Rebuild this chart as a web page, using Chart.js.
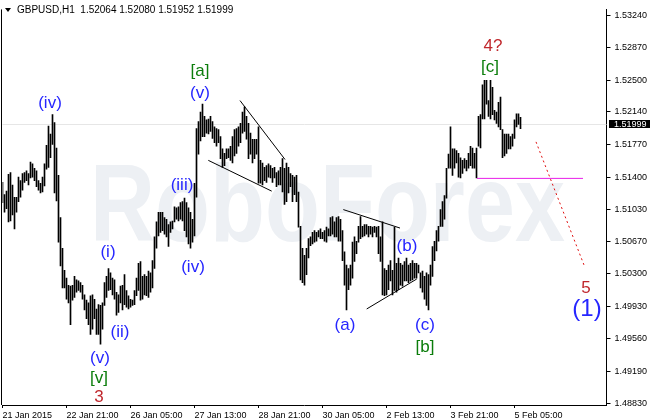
<!DOCTYPE html>
<html>
<head>
<meta charset="utf-8">
<title>GBPUSD H1</title>
<script src="https://cdn.jsdelivr.net/npm/chart.js@4.4.1/dist/chart.umd.min.js"></script>
<style>
  html, body { margin: 0; padding: 0; background: #fff; }
  #wrap { width: 650px; height: 420px; }
</style>
</head>
<body>
<div id="wrap"><canvas id="grafico" width="650" height="420"></canvas></div>
<script>
// GBPUSD H1 - maximos y minimos de cada vela, de izquierda a derecha
const highs = [
  1.5134, 1.5120, 1.5124, 1.5143, 1.5145, 1.5131, 1.5117, 1.5117, 1.5140, 1.5136,
  1.5144, 1.5145, 1.5147, 1.5144, 1.5157, 1.5155, 1.5150, 1.5147, 1.5136, 1.5133,
  1.5140, 1.5155, 1.5176, 1.5198, 1.5189, 1.5211, 1.5202, 1.5173, 1.5142, 1.5094,
  1.5059, 1.5034, 1.5025, 1.5017, 1.5016, 1.5017, 1.5027, 1.5023, 1.5022, 1.5020,
  1.5017, 1.5006, 1.5000, 1.4997, 1.5005, 1.5006, 1.5001, 1.4990, 1.4995, 1.4994,
  1.4997, 1.5020, 1.5027, 1.5036, 1.5031, 1.5025, 1.5023, 1.5009, 1.5006, 1.5016,
  1.5017, 1.5029, 1.5011, 1.5005, 1.5001, 1.5000, 1.5011, 1.5025, 1.5042, 1.5044,
  1.5027, 1.5029, 1.5027, 1.5033, 1.5031, 1.5045, 1.5072, 1.5089, 1.5100, 1.5100,
  1.5100, 1.5094, 1.5092, 1.5086, 1.5089, 1.5090, 1.5106, 1.5105, 1.5106, 1.5111,
  1.5112, 1.5116, 1.5111, 1.5105, 1.5100, 1.5092, 1.5133, 1.5195, 1.5203, 1.5214,
  1.5223, 1.5209, 1.5205, 1.5206, 1.5209, 1.5203, 1.5197, 1.5195, 1.5194, 1.5186,
  1.5172, 1.5167, 1.5172, 1.5172, 1.5175, 1.5186, 1.5194, 1.5195, 1.5197, 1.5201,
  1.5214, 1.5220, 1.5209, 1.5201, 1.5190, 1.5183, 1.5183, 1.5183, 1.5197, 1.5159,
  1.5156, 1.5151, 1.5153, 1.5155, 1.5153, 1.5150, 1.5151, 1.5145, 1.5147, 1.5151,
  1.5161, 1.5150, 1.5156, 1.5151, 1.5144, 1.5142, 1.5140, 1.5142, 1.5123, 1.5084,
  1.5059, 1.5051, 1.5059, 1.5070, 1.5072, 1.5077, 1.5079, 1.5077, 1.5079, 1.5081,
  1.5077, 1.5079, 1.5083, 1.5081, 1.5094, 1.5095, 1.5089, 1.5094, 1.5095, 1.5092,
  1.5079, 1.5055, 1.5040, 1.5036, 1.5040, 1.5066, 1.5072, 1.5067, 1.5084, 1.5095,
  1.5084, 1.5086, 1.5086, 1.5084, 1.5084, 1.5083, 1.5084, 1.5083, 1.5084, 1.5072,
  1.5089, 1.5036, 1.5034, 1.5040, 1.5045, 1.5034, 1.5083, 1.5042, 1.5048, 1.5042,
  1.5040, 1.5044, 1.5048, 1.5040, 1.5042, 1.5045, 1.5042, 1.5042, 1.5040, 1.5031,
  1.5033, 1.5027, 1.5031, 1.5029, 1.5040, 1.5061, 1.5067, 1.5079, 1.5084, 1.5103,
  1.5112, 1.5119, 1.5150, 1.5166, 1.5197, 1.5172, 1.5172, 1.5170, 1.5167, 1.5162,
  1.5159, 1.5161, 1.5159, 1.5167, 1.5175, 1.5173, 1.5167, 1.5173, 1.5209, 1.5211,
  1.5245, 1.5250, 1.5250, 1.5227, 1.5250, 1.5242, 1.5216, 1.5214, 1.5225, 1.5231,
  1.5194, 1.5189, 1.5189, 1.5189, 1.5186, 1.5189, 1.5205, 1.5212, 1.5212, 1.5208
];
const lows = [
  1.5111, 1.5100, 1.5104, 1.5089, 1.5090, 1.5097, 1.5081, 1.5100, 1.5112, 1.5117,
  1.5125, 1.5134, 1.5136, 1.5131, 1.5139, 1.5140, 1.5136, 1.5129, 1.5125, 1.5122,
  1.5123, 1.5130, 1.5149, 1.5151, 1.5162, 1.5177, 1.5122, 1.5113, 1.5066, 1.5039,
  1.5014, 1.5014, 1.5001, 1.4997, 1.4972, 1.5000, 1.5003, 1.5009, 1.5011, 1.5009,
  1.5001, 1.4989, 1.4979, 1.4972, 1.4961, 1.4967, 1.4979, 1.4961, 1.4961, 1.4950,
  1.4967, 1.4994, 1.5003, 1.5011, 1.5012, 1.5006, 1.5001, 1.4983, 1.4986, 1.4997,
  1.4989, 1.4995, 1.4992, 1.4990, 1.4992, 1.4994, 1.4995, 1.5005, 1.5011, 1.5000,
  1.5001, 1.5006, 1.5005, 1.5003, 1.5009, 1.5014, 1.5036, 1.5059, 1.5073, 1.5077,
  1.5079, 1.5075, 1.5072, 1.5061, 1.5077, 1.5081, 1.5089, 1.5092, 1.5090, 1.5092,
  1.5090, 1.5079, 1.5072, 1.5064, 1.5059, 1.5066, 1.5073, 1.5117, 1.5166, 1.5181,
  1.5186, 1.5186, 1.5190, 1.5189, 1.5192, 1.5184, 1.5179, 1.5175, 1.5179, 1.5161,
  1.5151, 1.5153, 1.5161, 1.5162, 1.5159, 1.5156, 1.5164, 1.5167, 1.5175, 1.5179,
  1.5190, 1.5192, 1.5183, 1.5161, 1.5166, 1.5156, 1.5161, 1.5166, 1.5133, 1.5133,
  1.5131, 1.5136, 1.5134, 1.5140, 1.5139, 1.5134, 1.5139, 1.5129, 1.5131, 1.5131,
  1.5123, 1.5109, 1.5112, 1.5122, 1.5129, 1.5112, 1.5120, 1.5112, 1.5083, 1.5023,
  1.5020, 1.5017, 1.5029, 1.5048, 1.5062, 1.5064, 1.5066, 1.5067, 1.5072, 1.5070,
  1.5070, 1.5067, 1.5066, 1.5073, 1.5073, 1.5075, 1.5072, 1.5072, 1.5067, 1.5067,
  1.5045, 1.5017, 1.4989, 1.5012, 1.5017, 1.5025, 1.5044, 1.5053, 1.5066, 1.5070,
  1.5072, 1.5073, 1.5075, 1.5072, 1.5075, 1.5072, 1.5077, 1.5072, 1.5053, 1.5044,
  1.5006, 1.5005, 1.5006, 1.5012, 1.5022, 1.5006, 1.5011, 1.5009, 1.5012, 1.5017,
  1.5016, 1.5022, 1.5022, 1.5020, 1.5022, 1.5023, 1.5025, 1.5025, 1.5031, 1.5014,
  1.5009, 1.5001, 1.4994, 1.4989, 1.5017, 1.5027, 1.5045, 1.5056, 1.5067, 1.5084,
  1.5084, 1.5092, 1.5116, 1.5150, 1.5150, 1.5142, 1.5150, 1.5156, 1.5140, 1.5139,
  1.5144, 1.5150, 1.5147, 1.5150, 1.5153, 1.5150, 1.5150, 1.5139, 1.5175, 1.5173,
  1.5206, 1.5206, 1.5223, 1.5209, 1.5206, 1.5211, 1.5205, 1.5201, 1.5197, 1.5194,
  1.5162, 1.5164, 1.5167, 1.5172, 1.5172, 1.5175, 1.5184, 1.5197, 1.5200, 1.5195
];

// ultima vela (cabecera) y precio actual
const lastBar = { open: 1.52064, high: 1.52080, low: 1.51952, close: 1.51999 };

// etiquetas de tiempo, una cada 32 velas
const timeLabels = ["21 Jan 2015", "22 Jan 21:00", "26 Jan 05:00", "27 Jan 13:00",
  "28 Jan 21:00", "30 Jan 05:00", "2 Feb 13:00", "3 Feb 21:00", "5 Feb 05:00"];
const barsPerLabel = 32;

// escala de precios
const priceTicks = [1.5324, 1.5287, 1.5250, 1.5214, 1.5177, 1.5140, 1.5103,
  1.5067, 1.5030, 1.4993, 1.4956, 1.4919, 1.4883];

// lineas de tendencia (indice de vela, precio)
const trendLines = [
  { a: [118.75, 1.5227], b: [141.25, 1.5160], color: "#000000", dash: [] },
  { a: [102.9, 1.5159], b: [134.6, 1.5124], color: "#000000", dash: [] },
  { a: [170.4, 1.5103], b: [198.75, 1.5082], color: "#000000", dash: [] },
  { a: [182.1, 1.4990], b: [207.1, 1.5024], color: "#000000", dash: [] },
  { a: [237.25, 1.51385], b: [290.25, 1.51385], color: "#e81ee8", dash: [] },
  { a: [266.75, 1.5180], b: [290.75, 1.5040], color: "#e01010", dash: [2, 3] }
];

// etiquetas de ondas de Elliott
const azul = "#2626ff", verde = "#0b7d0b", rojo = "#c0282d";
const etiquetas = [
  { t: "(iv)", i: 23.75, p: 1.5224, c: azul, s: 17 },
  { t: "[a]", i: 98.75, p: 1.5260, c: verde, s: 17 },
  { t: "(v)", i: 98.75, p: 1.5235, c: azul, s: 17 },
  { t: "(iii)", i: 89.75, p: 1.5131, c: azul, s: 17 },
  { t: "(iv)", i: 95.25, p: 1.5037, c: azul, s: 17 },
  { t: "(i)", i: 52.75, p: 1.5054, c: azul, s: 17 },
  { t: "(ii)", i: 58.75, p: 1.4964, c: azul, s: 17 },
  { t: "(v)", i: 48.75, p: 1.4934, c: azul, s: 17 },
  { t: "[v]", i: 48.25, p: 1.4911, c: verde, s: 17 },
  { t: "3", i: 48.25, p: 1.4890, c: rojo, s: 17 },
  { t: "(a)", i: 171.25, p: 1.4971, c: azul, s: 17 },
  { t: "(b)", i: 202.25, p: 1.5061, c: azul, s: 17 },
  { t: "(c)", i: 211.25, p: 1.4971, c: azul, s: 17 },
  { t: "[b]", i: 211.25, p: 1.4946, c: verde, s: 17 },
  { t: "4?", i: 245.25, p: 1.5289, c: rojo, s: 17 },
  { t: "[c]", i: 243.75, p: 1.5265, c: verde, s: 17 },
  { t: "5", i: 291.75, p: 1.5014, c: rojo, s: 17 },
  { t: "(1)", i: 292.25, p: 1.4990, c: azul, s: 24 }
];

const fuente = "'Liberation Sans', Arial, sans-serif";

// datasets
const velas = highs.map((h, i) => ({ x: i, y: [lows[i], h] }));
const datasets = [{
  type: "bar",
  data: velas,
  backgroundColor: "#000000",
  borderWidth: 0,
  barThickness: 1,
  order: 2
}];
trendLines.forEach((l) => {
  datasets.push({
    type: "line",
    data: [{ x: l.a[0], y: l.a[1] }, { x: l.b[0], y: l.b[1] }],
    borderColor: l.color,
    borderWidth: 1,
    borderDash: l.dash,
    pointRadius: 0,
    fill: false,
    order: 1
  });
});

const pluginDibujo = {
  id: "dibujo",
  beforeDatasetsDraw(chart) {
    const { ctx, chartArea: a, scales: { y } } = chart;
    // marca de agua
    ctx.save();
    ctx.fillStyle = "#edf0f4";
    ctx.font = "bold 109px " + fuente;
    const w = ctx.measureText("RoboForex").width;
    ctx.translate(90, 241);
    ctx.scale(475 / w, 1);
    ctx.textBaseline = "alphabetic";
    ctx.fillText("RoboForex", 0, 0);
    ctx.restore();

    // linea del precio actual
    const yb = Math.round(y.getPixelForValue(lastBar.close)) + 0.5;
    ctx.save();
    ctx.strokeStyle = "#e6e6e6";
    ctx.lineWidth = 1;
    ctx.beginPath();
    ctx.moveTo(a.left, yb);
    ctx.lineTo(a.right, yb);
    ctx.stroke();

    // borde izquierdo
    ctx.strokeStyle = "#000";
    ctx.beginPath();
    ctx.moveTo(1.5, a.top);
    ctx.lineTo(1.5, a.bottom);
    ctx.stroke();
    ctx.restore();
  },
  afterDatasetsDraw(chart) {
    const { ctx, scales: { x, y } } = chart;
    ctx.save();
    ctx.textAlign = "center";
    ctx.textBaseline = "middle";
    etiquetas.forEach((e) => {
      ctx.font = e.s + "px " + fuente;
      ctx.fillStyle = e.c;
      ctx.fillText(e.t, x.getPixelForValue(e.i), y.getPixelForValue(e.p));
    });
    ctx.restore();
  },
  afterDraw(chart) {
    const { ctx, chartArea: a, scales: { y } } = chart;
    ctx.save();
    // cabecera
    ctx.fillStyle = "#000";
    ctx.beginPath();
    ctx.moveTo(5, 8);
    ctx.lineTo(11, 8);
    ctx.lineTo(8, 12);
    ctx.closePath();
    ctx.fill();
    ctx.font = "10px " + fuente;
    ctx.textBaseline = "middle";
    ctx.textAlign = "left";
    const cab = "GBPUSD,H1  " + [lastBar.open, lastBar.high, lastBar.low, lastBar.close]
      .map((v) => v.toFixed(5)).join(" ");
    ctx.fillText(cab, 17, 10);

    // etiqueta del precio actual
    ctx.font = "9px " + fuente;
    const yb = y.getPixelForValue(lastBar.close);
    ctx.fillRect(a.right + 2.5, Math.round(yb) - 4, 650 - a.right, 8);
    ctx.fillStyle = "#fff";
    ctx.fillText(lastBar.close.toFixed(5), a.right + 7.5, yb);
    ctx.restore();
  }
};

new Chart(document.getElementById("grafico"), {
  type: "bar",
  data: { datasets: datasets },
  options: {
    responsive: false,
    animation: false,
    events: [],
    layout: { padding: { left: 2.5, top: 0, right: 0, bottom: 0 } },
    plugins: { legend: { display: false }, tooltip: { enabled: false } },
    scales: {
      x: {
        type: "linear",
        min: 0,
        max: 302,
        offset: false,
        afterFit: (s) => { s.height = 15; },
        afterBuildTicks: (s) => {
          s.ticks = timeLabels.map((_, k) => ({ value: k * barsPerLabel }));
        },
        grid: { display: true, drawOnChartArea: false, drawTicks: true, tickLength: 3, color: "#000", offset: false },
        border: { display: true, color: "#000" },
        ticks: {
          autoSkip: false,
          maxRotation: 0,
          align: "start",
          padding: 2,
          color: "#000",
          font: { family: "'Liberation Sans', Arial, sans-serif", size: 9 },
          callback: (v) => timeLabels[v / barsPerLabel] || ""
        }
      },
      y: {
        type: "linear",
        position: "right",
        min: 1.488078,
        max: 1.533066,
        beginAtZero: false,
        afterFit: (s) => { s.width = 43.5; },
        afterBuildTicks: (s) => {
          s.ticks = priceTicks.map((v) => ({ value: v }));
        },
        grid: { display: true, drawOnChartArea: false, drawTicks: true, tickLength: 4, color: "#000" },
        border: { display: true, color: "#000" },
        ticks: {
          padding: 4,
          color: "#000",
          font: { family: "'Liberation Sans', Arial, sans-serif", size: 9 },
          callback: (v) => v.toFixed(5)
        }
      }
    }
  },
  plugins: [pluginDibujo]
});
</script>
</body>
</html>
